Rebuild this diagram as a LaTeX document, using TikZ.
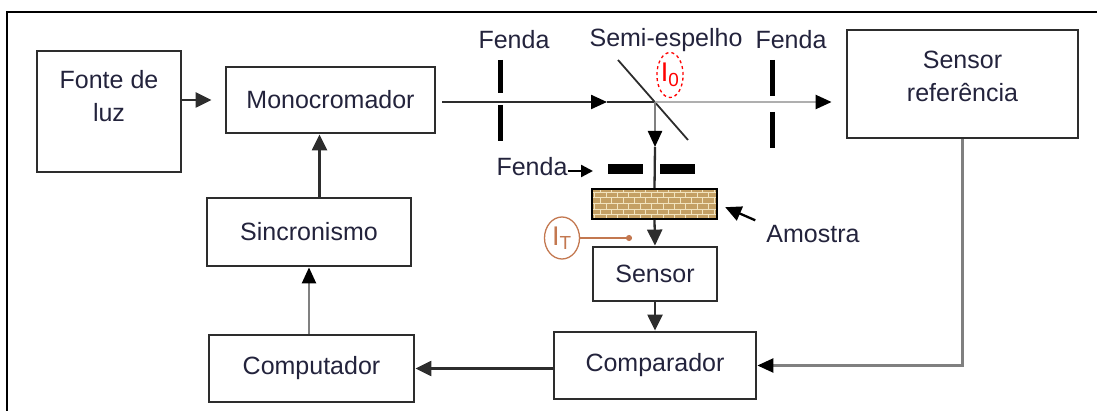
\documentclass[tikz,border=0pt]{standalone}
\usepackage{fontspec}
\setmainfont{Liberation Sans}
\usetikzlibrary{arrows.meta,patterns,shapes.geometric}
\definecolor{ink}{RGB}{35,35,60}
\definecolor{edge}{RGB}{45,45,45}
\definecolor{sample}{RGB}{196,160,100}
\definecolor{grain}{RGB}{242,228,190}
\definecolor{rust}{RGB}{195,120,80}
\definecolor{faint}{RGB}{175,175,175}
\tikzset{
  blk/.style={draw=edge,line width=2.8pt,align=center,text=ink,inner sep=2pt},
  flow/.style={-{Triangle[length=16pt,width=15pt]},line width=2.3pt,draw=#1},
  flow/.default=edge,
  beam/.style={-{Triangle[length=16pt,width=14pt,color=black]},line width=2.3pt,draw=#1},
  beam/.default=edge,
  slit/.style={line width=#1,draw=black},
  lbl/.style={text=ink,inner sep=0pt},
  mark/.style={ellipse,draw=#1,text=#1,inner sep=0pt,line width=1.3pt},
}

\begin{document}
\begin{tikzpicture}[x=1pt,y=-1pt,font=\fontsize{25}{33}\selectfont]
  \useasboundingbox (0,0) rectangle (1097,411);
  \draw[line width=2.4pt] (7,420) -- (7,12) -- (1105,12);
  % blocks
  \node[blk,minimum width=144pt,minimum height=121pt,
    label={[lbl,align=center,anchor=north,yshift=-21pt]north:{Fonte de\\luz}}] (fonte) at (109,111.5) {};
  \node[blk,minimum width=209pt,minimum height=66pt] (mono) at (330.5,100) {Monocromador};
  \node[blk,minimum width=204pt,minimum height=68pt] (sinc) at (309,232) {Sincronismo};
  \node[blk,minimum width=205pt,minimum height=67pt] (comp) at (311.5,368.5) {Computador};
  \node[blk,minimum width=202pt,minimum height=67pt] (compar) at (655,365.5) {Comparador};
  \node[blk,minimum width=124pt,minimum height=54pt] (sensor) at (655,274) {Sensor};
  \node[blk,minimum width=231pt,minimum height=108pt,
    label={[lbl,align=center,anchor=north,yshift=-22pt]north:{Sensor\\referência}}] (sref) at (962.5,84) {};
  \node[draw=black,line width=1.8pt,minimum width=125pt,minimum height=30pt,
    preaction={fill=sample},pattern=bricks,pattern color=grain] (amostra) at (654.5,204) {};
  % labels
  \node[lbl] (f1) at (514,40) {Fenda};
  \node[lbl] (semi) at (666,40) {Semi-espelho};
  \node[lbl] (f2) at (791,40) {Fenda};
  \node[lbl] (f3) at (532,167) {Fenda};
  \node[lbl] (amo) at (813,234) {Amostra};
  \node[mark=red,dashed,minimum width=26pt,minimum height=45pt,font=\fontsize{27}{27}\selectfont] (io) at (670,75) {I\textsubscript{0}};
  \node[mark=rust,minimum width=35pt,minimum height=42pt,font=\fontsize{27}{27}\selectfont] (it) at (562,238) {I\textsubscript{T}};
  % optics
  \coordinate (hit) at (655,102);
  \coordinate (tipa) at (607,102);
  \coordinate (tipb) at (655,147);
  \coordinate (slitl) at (593,171);
  \coordinate (itend) at (632,238);
  \foreach \x/\a/\b/\c/\d in {500/60/93/105/141,772/60/96/112/148}
    \draw[slit=5pt] (\x,\a) -- (\x,\b) (\x,\c) -- (\x,\d);
  \draw[slit=10pt] (608,169) -- (643,169) (660,169) -- (695,169);
  \draw[edge,line width=1.8pt] (618,60) -- (688,140);
  \draw[beam] ([xshift=6pt]mono.east |- hit) -- (tipa);
  \draw[edge,line width=2.3pt] (tipa) -- (hit);
  \draw[beam=faint,shorten >=14pt] (hit) -- (sref.west |- hit);
  \draw[beam=gray] (hit) -- (tipb);
  \draw[edge,line width=2.3pt] (tipb) -- (amostra.north);
  \draw[flow] (amostra.south) -- (sensor.north);
  \draw[flow=black,-{Triangle[length=12pt,width=12pt]}] (f3.east |- slitl) -- (slitl);
  \draw[flow=black,shorten <=12pt,shorten >=8pt] (amo.north west) -- (amostra.east);
  \draw[rust,line width=1.5pt,-{Circle[length=6pt]}] (it.east) -- (itend);
  % signal path
  \draw[flow,shorten >=13pt] (fonte.east |- mono.west) -- (mono.west);
  \draw[flow] ([xshift=-11pt]mono.south |- sinc.north) -- ([xshift=-11pt]mono.south);
  \draw[beam=gray] (sinc.south |- comp.north) -- (sinc.south);
  \draw[flow] (sensor.south) -- (compar.north);
  \draw[flow] (compar.west |- comp.east) -- (comp.east);
  \draw[beam=gray] (sref.south) |- (compar.east);
\end{tikzpicture}
\end{document}
